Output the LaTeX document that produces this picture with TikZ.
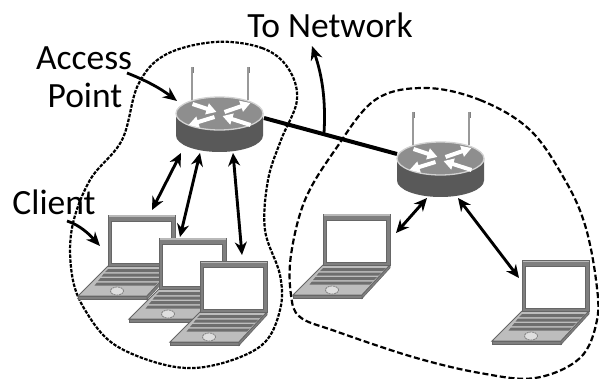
\documentclass[tikz,border=0pt]{standalone}
\usepackage{fontspec}
\setmainfont{Carlito}
\usetikzlibrary{arrows.meta}
\definecolor{lidgray}{HTML}{7F7F7F}
\definecolor{edgegray}{HTML}{666666}
\definecolor{basegray}{HTML}{BDBDBD}
\definecolor{keygray}{HTML}{6E6E6E}
\definecolor{bodygray}{HTML}{595959}
\definecolor{topgray}{HTML}{8E8E8E}
\tikzset{
  x=1pt,y=-1pt,
  label text/.style={font=\fontsize{35.5}{37}\selectfont,inner sep=0pt,text=black},
  wireless/.style={line width=2.9pt,black,{Stealth[length=13pt,width=12pt]}-{Stealth[length=13pt,width=12pt]}},
  pointer/.style={line width=2.8pt,black,-{Stealth[length=14pt,width=12pt]}},
  cell border/.style={line width=2.2pt,black,dash pattern=on 3.5pt off 1.4pt},
  router arrow/.style={line width=4pt,white,-{Triangle[length=10pt,width=11pt]}},
  router/.pic={
    \fill[gray] (-29,-30) rectangle (-26,-24);
    \fill[gray] (27,-30) rectangle (30,-24);
    \draw[gray!80,line width=1.3pt] (-27.5,-30) -- (-27.5,3);
    \draw[gray!80,line width=1.3pt] (28.5,-30) -- (28.5,3);
    \fill[bodygray] (-43.5,16.5) -- (-43.5,38.5) arc[start angle=180,end angle=360,x radius=43.5pt,y radius=16.5pt] -- (43.5,16.5) -- cycle;
    \fill[topgray,draw=gray!35,line width=1.3pt] (0,16.5) ellipse[x radius=43.5pt,y radius=16.5pt];
    \draw[router arrow] (-27,7) -- (-3,15);
    \draw[router arrow] (5,15) -- (31,6);
    \draw[router arrow] (-5,20) -- (-31,28);
    \draw[router arrow] (31,28) -- (3,19);
  },
  laptop/.pic={
    \fill[basegray,draw=edgegray,line width=1pt] (0,51) -- (67,51) -- (39,81) -- (-30,81) -- cycle;
    \fill[lidgray,draw=edgegray,line width=.6pt] (-30,81) -- (39,81) -- (39,84.5) -- (-30,84.5) -- cycle;
    \fill[lidgray,draw=edgegray,line width=.6pt] (39,81) -- (67,51) -- (67,54) -- (39,84.5) -- cycle;
    \fill[keygray] (0,54) -- (63,54) -- (60,57) -- (-3,57) -- cycle;
    \fill[keygray] (-4,58.5) -- (58.5,58.5) -- (55.5,61.5) -- (-6.5,61.5) -- cycle;
    \fill[keygray] (-7.5,63) -- (54,63) -- (51,66) -- (-10,66) -- cycle;
    \fill[keygray] (-11,67.5) -- (50,67.5) -- (47,70.5) -- (-13.5,70.5) -- cycle;
    \draw[gray,line width=.8pt,dash pattern=on 2pt off .7pt,fill=gray!25] (9,76) ellipse[x radius=6.5pt,y radius=4pt];
    \fill[lidgray,draw=edgegray,line width=.8pt] (0,0) rectangle (67,51);
    \fill[gray!55] (.5,.5) rectangle (66.5,2.2);
    \fill[white,draw=edgegray,line width=.6pt] (3,6.5) rectangle (63,48.5);
  }
}
\begin{document}
\begin{tikzpicture}
\useasboundingbox (0,0) rectangle (599,379);
\fill[white] (0,0) rectangle (599,379);

% cell borders
\draw[cell border] plot[smooth cycle,tension=.6] coordinates {
  (215,42) (262,48) (288,68) (297,100) (281,140) (268,180) (265,230) (280,275)
  (280,310) (262,345) (215,365) (170,366) (115,345) (85,310) (72,275) (72,228)
  (90,180) (122,140) (138,85) (165,55)};
\draw[cell border,dash pattern=on 6pt off 2.8pt] plot[smooth cycle,tension=.6] coordinates {
  (425,88) (480,100) (530,130) (565,180) (585,225) (596,280) (597,320) (580,358)
  (535,378) (480,373) (413,357) (335,331) (300,317) (291,295) (291,255) (305,200)
  (335,150) (375,100)};

% routers
\coordinate (apA) at (219.5,97);
\coordinate (apB) at (440.5,142);
\path (apA) pic {router};
\path (apB) pic {router};

% laptops
\coordinate (lapA) at (108,215);
\coordinate (lapB) at (159,238);
\coordinate (lapC) at (200,261);
\coordinate (lapD) at (323,214);
\coordinate (lapE) at (522,260);
\path (lapA) pic {laptop};
\path (lapB) pic {laptop};
\path (lapC) pic {laptop};
\path (lapD) pic {laptop};
\path (lapE) pic {laptop};

% connector ends
\coordinate (apAa) at (181,153);
\coordinate (apAb) at (200,153);
\coordinate (apAc) at (233,153);
\coordinate (apAr) at (264,118);
\coordinate (apBl) at (397,154);
\coordinate (apBa) at (427,198);
\coordinate (apBb) at (458,198);
\coordinate (lapAe) at (152,210);
\coordinate (lapBe) at (180,237);
\coordinate (lapCe) at (242,255);
\coordinate (lapDe) at (396,233);
\coordinate (lapEe) at (519,278);
\coordinate (linkJ) at (324,133);

\draw[line width=4pt,black] (apAr) -- (apBl);
\draw[wireless] (apAa) -- (lapAe);
\draw[wireless] (apAb) -- (lapBe);
\draw[wireless] (apAc) -- (lapCe);
\draw[wireless] (apBa) -- (lapDe);
\draw[wireless] (apBb) -- (lapEe);

% labels
\node[label text] (tonet) at (330,25) {To Network};
\node[label text] (acc) at (84,58) {Access};
\node[label text] (pnt) at (85,95) {Point};
\node[label text] (cli) at (54,202) {Client};

\coordinate (tonetEnd) at (312,46);
\coordinate (accStart) at (127,73);
\coordinate (accEnd) at (177,101);
\coordinate (cliStart) at (67,221);
\coordinate (cliEnd) at (100,246);
\draw[pointer] (linkJ) .. controls (326,100) and (322,75) .. (tonetEnd);
\draw[pointer] (accStart) .. controls (145,80) and (160,88) .. (accEnd);
\draw[pointer] (cliStart) .. controls (80,225) and (90,235) .. (cliEnd);
\end{tikzpicture}
\end{document}
